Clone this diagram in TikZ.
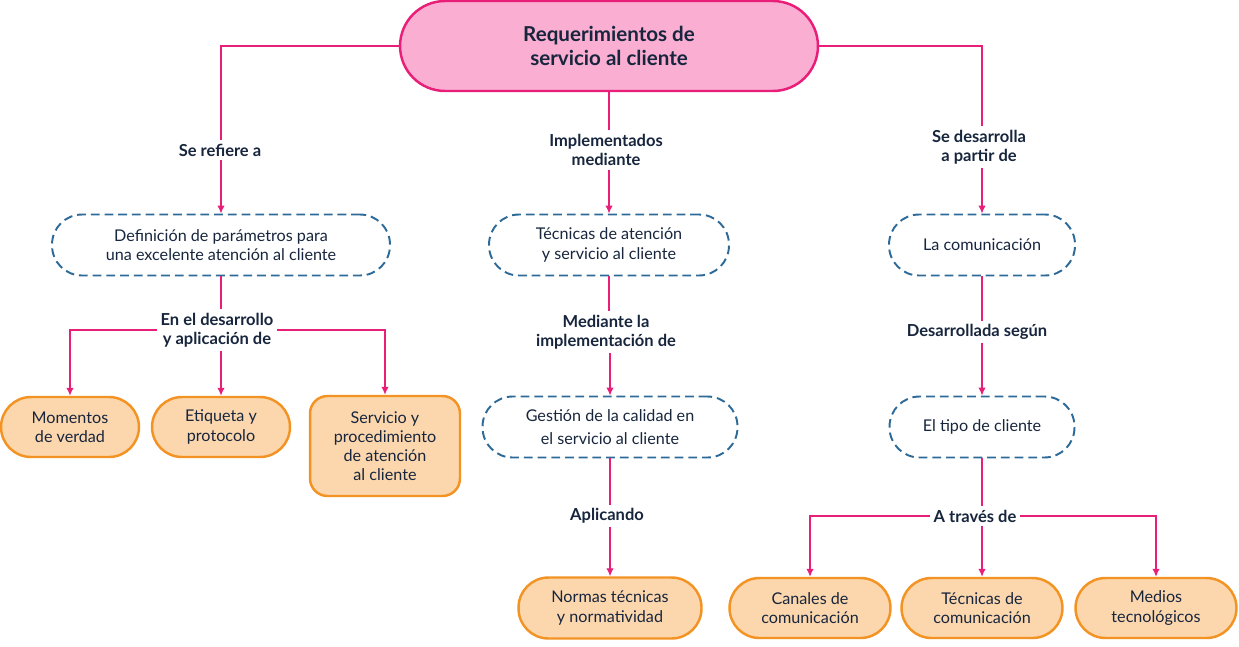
\documentclass[tikz,border=0pt]{standalone}
\usepackage{fontspec}
\setmainfont{Lato}
\usetikzlibrary{arrows.meta}
\definecolor{navy}{HTML}{17253D}
\definecolor{dblue}{HTML}{2D6A97}
\definecolor{pinkline}{HTML}{E91E78}
\definecolor{pinkfill}{HTML}{F9AED2}
\definecolor{orline}{HTML}{F39323}
\definecolor{orfill}{HTML}{FCD7AD}
\tikzset{
  txt/.style={font=\fontsize{9.2}{10.9}\selectfont, text=navy, align=center},
  lbl/.style={txt, font=\fontsize{9.4}{10.9}\selectfont\bfseries, inner sep=2pt},
  dashbox/.style={txt, draw=dblue, line width=1.1pt, dash pattern=on 5pt off 2.8pt, rounded corners=0.6cm, minimum height=1.22cm},
  orbox/.style={txt, draw=orline, fill=orfill, line width=1.4pt, rounded corners=0.6cm, minimum height=1.2cm},
  link/.style={draw=pinkline, line width=0.75pt},
  arr/.style={link, -{Latex[length=1.6mm,width=1.5mm]}}
}
\begin{document}
\begin{tikzpicture}[x=0.02cm,y=-0.02cm]
  \useasboundingbox (0,0) rectangle (1239,646);
  \node[txt, font=\fontsize{11.7}{14}\selectfont\bfseries, draw=pinkline, fill=pinkfill, line width=1.4pt, rounded corners=0.9cm, minimum width=8.36cm, minimum height=1.8cm] (title) at (609,46) {Requerimientos de\\servicio al cliente};

  \node[dashbox, minimum width=6.76cm] (defin) at (221,245) {Definición de parámetros para\\una excelente atención al cliente};
  \node[dashbox, minimum width=4.8cm] (tecat) at (609,245) {Técnicas de atención\\y servicio al cliente};
  \node[dashbox, minimum width=3.72cm] (comun) at (982,245) {La comunicación};
  \node[dashbox, minimum width=5.1cm, font=\fontsize{9.2}{13.5}\selectfont] (gesti) at (610,427) {Gestión de la calidad en\\el servicio al cliente};
  \node[dashbox, minimum width=3.7cm] (tipoc) at (982,427) {El tipo de cliente};

  \node[orbox, minimum width=2.76cm] (momen) at (70,427) {Momentos\\de verdad};
  \node[orbox, minimum width=2.76cm] (etiq) at (221,427) {Etiqueta y\\protocolo};
  \node[orbox, minimum width=3.0cm, minimum height=2.0cm, rounded corners=0.35cm] (servi) at (385,446) {Servicio y\\procedimiento\\de atención\\al cliente};
  \node[orbox, minimum width=3.66cm, minimum height=1.22cm] (norma) at (610,608) {Normas técnicas\\y normatividad};
  \node[orbox, minimum width=3.22cm] (canal) at (810,608) {Canales de\\comunicación};
  \node[orbox, minimum width=3.22cm] (tecco) at (982,608) {Técnicas de\\comunicación};
  \node[orbox, minimum width=3.22cm] (medio) at (1156,608) {Medios\\tecnológicos};

  \node[lbl] (refie) at (220,150) {Se refiere a};
  \node[lbl] (imple) at (606,150) {Implementados\\mediante};
  \node[lbl] (desar) at (979,147) {Se desarrolla\\a partir de};
  \node[lbl] (apli) at (217,330) {En el desarrollo\\y aplicación de};
  \node[lbl] (media) at (606,332) {Mediante la\\implementación de};
  \node[lbl] (aplic) at (607,516) {Aplicando};
  \node[lbl] (segun) at (977,332) {Desarrollada según};
  \node[lbl] (trave) at (975,516) {A través de};

  \draw[link] (title.west) -| (defin.north |- refie.north);
  \draw[arr] (defin.north |- refie.south) -- (defin.north);
  \draw[link] (title.south) -- (title.south |- imple.north);
  \draw[arr] (tecat.north |- imple.south) -- (tecat.north);
  \draw[link] (title.east) -| (comun.north |- desar.north);
  \draw[arr] (comun.north |- desar.south) -- (comun.north);

  \draw[link] (defin.south) -- (defin.south |- apli.north);
  \draw[arr] (apli.west) -| (momen.north);
  \draw[arr] (etiq.north |- apli.south) -- (etiq.north);
  \draw[arr] (apli.east) -| (servi.north);

  \draw[link] (tecat.south) -- (tecat.south |- media.north);
  \draw[arr] (gesti.north |- media.south) -- (gesti.north);
  \draw[link] (gesti.south) -- (gesti.south |- aplic.north);
  \draw[arr] (norma.north |- aplic.south) -- (norma.north);

  \draw[link] (comun.south) -- (comun.south |- segun.north);
  \draw[arr] (tipoc.north |- segun.south) -- (tipoc.north);
  \draw[link] (tipoc.south) -- (tipoc.south |- trave.north);
  \draw[arr] (trave.west) -| (canal.north);
  \draw[arr] (tecco.north |- trave.south) -- (tecco.north);
  \draw[arr] (trave.east) -| (medio.north);
\end{tikzpicture}
\end{document}
